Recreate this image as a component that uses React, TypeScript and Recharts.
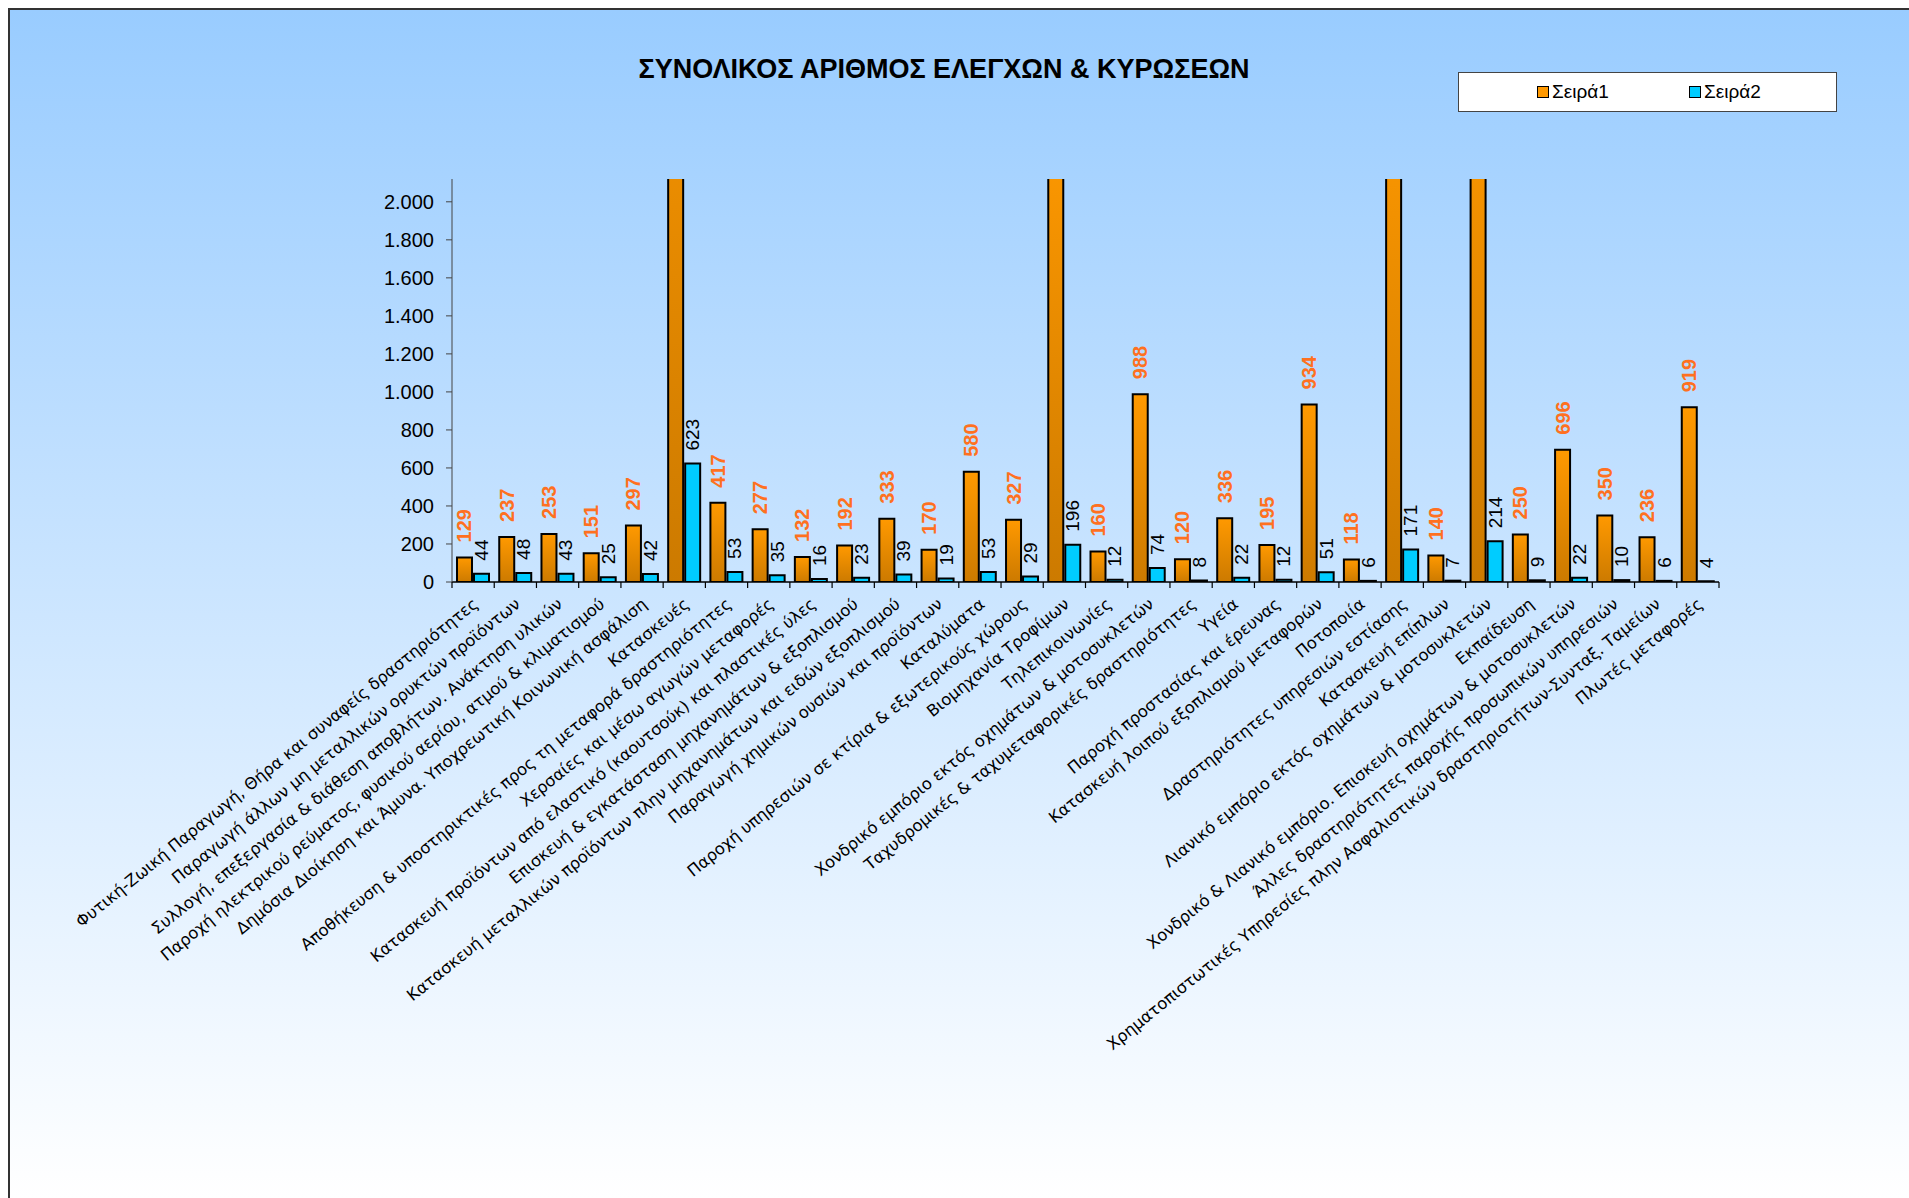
import React from 'react';
import { BarChart, Bar, XAxis, YAxis, LabelList } from 'recharts';

const categories = [
  'Φυτική-Ζωική Παραγωγή, Θήρα και συναφείς δραστηριότητες',
  'Παραγωγή άλλων μη μεταλλικών ορυκτών προϊόντων',
  'Συλλογή, επεξεργασία & διάθεση αποβλήτων. Ανάκτηση υλικών',
  'Παροχή ηλεκτρικού ρεύματος, φυσικού αερίου, ατμού & κλιματισμού',
  'Δημόσια Διοίκηση και Άμυνα. Υποχρεωτική Κοινωνική ασφάλιση',
  'Κατασκευές',
  'Αποθήκευση & υποστηρικτικές προς τη μεταφορά δραστηριότητες',
  'Χερσαίες και μέσω αγωγών μεταφορές',
  'Κατασκευή προϊόντων από ελαστικό (καουτσούκ) και πλαστικές ύλες',
  'Επισκευή & εγκατάσταση μηχανημάτων & εξοπλισμού',
  'Κατασκευή μεταλλικών προϊόντων πλην μηχανημάτων και ειδών εξοπλισμού',
  'Παραγωγή χημικών ουσιών και προϊόντων',
  'Καταλύματα',
  'Παροχή υπηρεσιών σε κτίρια & εξωτερικούς χώρους',
  'Βιομηχανία Τροφίμων',
  'Τηλεπικοινωνίες',
  'Χονδρικό εμπόριο εκτός οχημάτων & μοτοσυκλετών',
  'Ταχυδρομικές & ταχυμεταφορικές δραστηριότητες',
  'Υγεία',
  'Παροχή προστασίας και έρευνας',
  'Κατασκευή λοιπού εξοπλισμού μεταφορών',
  'Ποτοποιία',
  'Δραστηριότητες υπηρεσιών εστίασης',
  'Κατασκευή επίπλων',
  'Λιανικό εμπόριο εκτός οχημάτων & μοτοσυκλετών',
  'Εκπαίδευση',
  'Χονδρικό & Λιανικό εμπόριο. Επισκευή οχημάτων & μοτοσυκλετών',
  'Άλλες δραστηριότητες παροχής προσωπικών υπηρεσιών',
  'Χρηματοπιστωτικές Υπηρεσίες πλην Ασφαλιστικών δραστηριοτήτων-Συνταξ. Ταμείων',
  'Πλωτές μεταφορές',
];

// Σειρά1 - four bars run off the top of the axis, their values are estimates
const seira1 = [129, 237, 253, 151, 297, 3600, 417, 277, 132, 192, 333, 170, 580, 327, 2400, 160, 988, 120, 336, 195, 934, 118, 2600, 140, 2700, 250, 696, 350, 236, 919];
const seira2 = [44, 48, 43, 25, 42, 623, 53, 35, 16, 23, 39, 19, 53, 29, 196, 12, 74, 8, 22, 12, 51, 6, 171, 7, 214, 9, 22, 10, 6, 4];
const yTicks = [0, 200, 400, 600, 800, 1000, 1200, 1400, 1600, 1800, 2000];
const Y_MAX = 2120;

const data = categories.map((name, i) => ({ name, s1: seira1[i], s2: seira2[i] }));

const CHART_W = 1899;
const CHART_H = 1188;
const PLOT_LEFT = 442;
const PLOT_RIGHT = 1709;
const BAND = (PLOT_RIGHT - PLOT_LEFT) / categories.length;

const fmt = (v: number) => v.toLocaleString('de-DE');

const XTick = (props: any) => {
  const { x, y, payload, index } = props;
  const lx = x + 6;
  const ly = y + 24;
  return (
    <g>
      <line x1={x - BAND / 2} y1={y} x2={x - BAND / 2} y2={y + 6} stroke="#000" strokeWidth={1.2} />
      {index === categories.length - 1 && (
        <line x1={x + BAND / 2} y1={y} x2={x + BAND / 2} y2={y + 6} stroke="#000" strokeWidth={1.2} />
      )}
      <text
        x={lx}
        y={ly}
        textAnchor="end"
        fontFamily="DejaVu Sans"
        fontSize={16.3}
        fill="#000"
        transform={`rotate(-39, ${lx}, ${ly})`}
      >
        {payload.value}
      </text>
    </g>
  );
};

const makeLabel = (color: string, bold: boolean, size: number, gap: number) => (props: any) => {
  const { x, y, width, value } = props;
  if (value > Y_MAX) return null;
  const cx = x + width / 2;
  const cy = y - gap;
  return (
    <text
      x={cx}
      y={cy}
      textAnchor="start"
      dominantBaseline="central"
      fontFamily="Liberation Sans, Arial, sans-serif"
      fontSize={size}
      fontWeight={bold ? 700 : 400}
      fill={color}
      transform={`rotate(-90, ${cx}, ${cy})`}
    >
      {value}
    </text>
  );
};

export default function App() {
  return (
    <div
      style={{
        position: 'fixed',
        left: 8,
        top: 8,
        right: 0,
        bottom: 0,
        borderTop: '2px solid #333',
        borderLeft: '2px solid #333',
        background: 'linear-gradient(to bottom, #99CCFF 0%, #FFFFFF 100%)',
        overflow: 'hidden',
      }}
    >
      <div
        style={{
          position: 'absolute',
          left: 434,
          top: 44,
          width: 1000,
          textAlign: 'center',
          fontFamily: 'Liberation Sans, Arial, sans-serif',
          fontWeight: 700,
          fontSize: 27,
          lineHeight: '30px',
          color: '#000',
        }}
      >
        ΣΥΝΟΛΙΚΟΣ ΑΡΙΘΜΟΣ ΕΛΕΓΧΩΝ &amp; ΚΥΡΩΣΕΩΝ
      </div>

      {/* υπόμνημα */}
      <div
        style={{
          position: 'absolute',
          left: 1448,
          top: 62,
          width: 379,
          height: 40,
          boxSizing: 'border-box',
          background: '#fff',
          border: '1.5px solid #444',
          fontFamily: 'Liberation Sans, Arial, sans-serif',
          fontSize: 19,
        }}
      >
        {[
          { name: 'Σειρά1', color: '#FF9900', left: 78 },
          { name: 'Σειρά2', color: '#00CCFF', left: 230 },
        ].map((item) => (
          <div
            key={item.name}
            style={{ position: 'absolute', left: item.left, top: 8, display: 'flex', alignItems: 'center', height: 22 }}
          >
            <div
              style={{
                width: 10,
                height: 10,
                background: item.color,
                border: '1.5px solid #000',
                marginRight: 3,
              }}
            />
            <span>{item.name}</span>
          </div>
        ))}
      </div>

      <BarChart
        width={CHART_W}
        height={CHART_H}
        data={data}
        margin={{ top: 169, right: CHART_W - PLOT_RIGHT, bottom: 196, left: PLOT_LEFT - 80 }}
        barSize={15}
        barGap={2}
      >
        <defs>
          <linearGradient id="orangeGrad" x1="0" y1="0" x2="0" y2="1">
            <stop offset="0%" stopColor="#FF9900" />
            <stop offset="100%" stopColor="#CC7A00" />
          </linearGradient>
        </defs>
        <XAxis
          dataKey="name"
          interval={0}
          height={420}
          tickLine={false}
          tickSize={0}
          tickMargin={0}
          axisLine={{ stroke: '#000', strokeWidth: 1.5 }}
          tick={(p: any) => <XTick {...p} />}
        />
        <YAxis
          width={80}
          domain={[0, Y_MAX]}
          ticks={yTicks}
          allowDataOverflow
          tickFormatter={fmt}
          tickSize={6}
          tickMargin={12}
          axisLine={{ stroke: '#444', strokeWidth: 1 }}
          tickLine={{ stroke: '#444', strokeWidth: 1 }}
          tick={{ fontFamily: 'Liberation Sans, Arial, sans-serif', fontSize: 20, fill: '#000' }}
        />
        <Bar dataKey="s1" name="Σειρά1" fill="url(#orangeGrad)" stroke="#000" strokeWidth={2} isAnimationActive={false}>
          <LabelList dataKey="s1" content={makeLabel('#FF7020', true, 20, 15)} />
        </Bar>
        <Bar dataKey="s2" name="Σειρά2" fill="#00CCFF" stroke="#000" strokeWidth={2} isAnimationActive={false}>
          <LabelList dataKey="s2" content={makeLabel('#000', false, 19, 13)} />
        </Bar>
      </BarChart>
    </div>
  );
}
